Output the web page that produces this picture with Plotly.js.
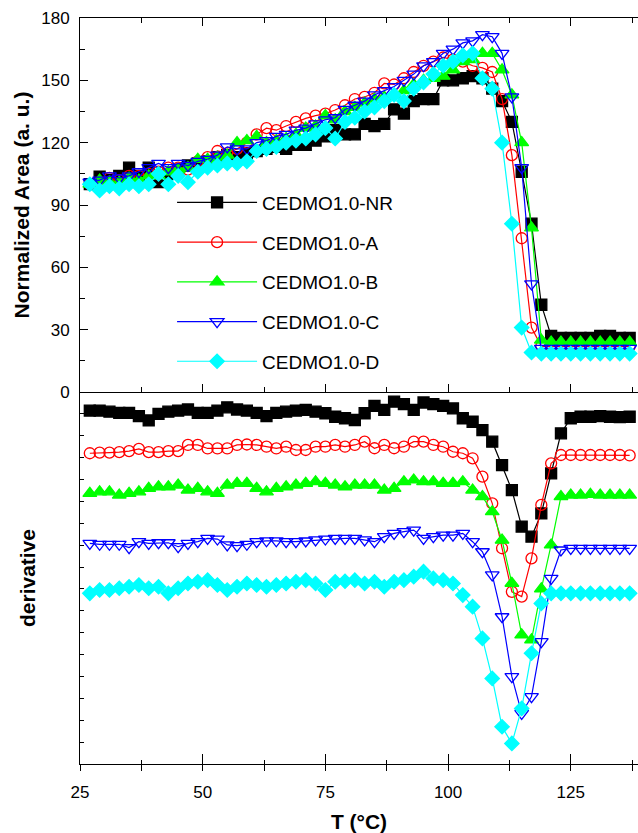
<!DOCTYPE html>
<html><head><meta charset="utf-8">
<script src="https://cdn.plot.ly/plotly-3.0.1.min.js"></script>
<style>html,body{margin:0;padding:0;background:#fff;} #chart{width:638px;height:833px;}</style>
</head><body><div id="chart"></div>
<script>
// Temperature (°C)
const T = [27,29,31,33,35,37,39,41,43,45,47,49,51,53,55,57,59,61,63,65,67,69,71,73,75,77,79,81,83,85,87,89,91,93,95,97,99,101,103,105,107,109,111,113,115,117,119,121,123,125,127,129,131,133,135,137];

// Normalized area (a. u.)
const area_NR = [100,103.6,102,104,108,104,108,101,105,107, 109,110,111,113,114,113,115,116,117,118, 117,119,119,121,123,126,124,124,129,128, 129,136,134,140,141,141,150,150,151,152, 151,146,140,130,106,81,42,27,26,26, 26,26,27,27,26,26];
const area_A  = [100,101,103,102,104,104,105,106,108,108, 107,111,113,116,115,117,120,124,127,126, 128,130,131.7,133,134,135.7,138,141,142,144, 148.5,148,151,154,157,159,161,160,159,157, 156,154,141,114,74,31,22,22,22,22, 22,22,22,22,22,22];
const area_B  = [100,102,101,101,103,102,104,104,106,107, 108,112,112,113,114,120,121,123,120,121, 122,124,127,128,133,131,135,137,139,141, 142,143,145,148,150,151,152,155,159,160, 163,163,155,143,120,79,25,24,24,24, 24,24,24,24,24,24];
const area_C  = [101,102,104,103,104,106,108,110,108,110, 109,111,112,114,118,117,117,120,121,123, 124,126,127,129,131,132,136,138,140,143, 145,147,150,153,157,159,163,165,168,169, 172,171,163,142,108,52,21,21,21,21, 21,21,21,21,21,21];
const area_D  = [100,97,99,98,100,99,100,105,100,104, 101,106,108,109,110,110,111,116,117,118, 120,121,122,124,127,122,130,132,135,137, 140,143,140,146,149,153,157,159,162,163, 151,146,120,81,31,19,18.5,18.5,18.5,18.5, 18.5,18.5,18.5,18.5,18.5,18.5];

// Derivative (arbitrary units, stacked with offsets as in the figure)
const deriv_NR = [-0.85,-0.85,-0.9,-0.95,-0.95,-1.1,-1.3,-1.0,-0.9,-0.85, -0.8,-0.95,-0.95,-0.85,-0.7,-0.8,-0.85,-0.95,-1.1,-0.95, -0.9,-0.85,-0.82,-0.9,-0.97,-1.13,-1.2,-1.28,-0.97,-0.63, -0.82,-0.44,-0.55,-0.82,-0.48,-0.55,-0.63,-0.75,-1.2,-1.36, -1.74,-2.27,-3.34,-4.48,-6.15,-6.61,-5.55,-3.72,-1.89,-1.2, -1.13,-1.13,-1.1,-1.13,-1.15,-1.13];
const deriv_A  = [-2.8,-2.77,-2.77,-2.75,-2.7,-2.6,-2.75,-2.75,-2.7,-2.7, -2.42,-2.42,-2.58,-2.58,-2.58,-2.42,-2.4,-2.42,-2.5,-2.58, -2.5,-2.65,-2.65,-2.5,-2.5,-2.42,-2.5,-2.42,-2.27,-2.57, -2.42,-2.57,-2.5,-2.27,-2.27,-2.42,-2.5,-2.73,-2.8,-3.03, -3.87,-5.09,-7.14,-9.13,-9.35,-7.6,-5.16,-3.26,-2.88,-2.88, -2.88,-2.88,-2.88,-2.88,-2.88,-2.9];
const deriv_B  = [-4.63,-4.56,-4.56,-4.71,-4.63,-4.56,-4.40,-4.33,-4.33,-4.25, -4.48,-4.40,-4.56,-4.63,-4.25,-4.17,-4.17,-4.40,-4.56,-4.40, -4.33,-4.25,-4.17,-4.10,-4.17,-4.25,-4.33,-4.25,-4.25,-4.25, -4.48,-4.40,-4.10,-4.02,-4.10,-4.10,-4.17,-4.17,-4.10,-4.48, -4.78,-5.47,-6.77,-8.74,-11.1,-11.33,-9.0,-6.99,-4.78,-4.71, -4.71,-4.68,-4.71,-4.71,-4.71,-4.71];
const deriv_C  = [-6.92,-6.96,-6.96,-6.96,-7.11,-6.84,-6.92,-6.89,-6.89,-7.07, -6.92,-6.84,-6.69,-6.72,-6.99,-7.02,-6.96,-6.84,-6.8,-6.8, -6.84,-6.84,-6.81,-6.76,-6.72,-6.69,-6.69,-6.69,-6.76,-6.84, -6.61,-6.46,-6.38,-6.31,-6.69,-6.61,-6.54,-6.54,-6.46,-6.84, -7.3,-8.36,-10.27,-13.01,-14.69,-13.92,-11.41,-8.52,-7.22,-7.15, -7.15,-7.15,-7.15,-7.15,-7.15,-7.15];
const deriv_D  = [-9.2,-9.05,-9.05,-8.97,-8.9,-8.82,-8.97,-8.9,-9.2,-8.97, -8.75,-8.67,-8.6,-8.82,-9.05,-8.9,-8.75,-8.82,-8.9,-8.82, -8.75,-8.67,-8.6,-8.75,-9.05,-8.67,-8.65,-8.6,-8.75,-8.67, -8.9,-8.67,-8.6,-8.44,-8.21,-8.52,-8.6,-8.75,-9.28,-9.81, -11.26,-13.09,-15.3,-16.06,-14.46,-11.94,-9.66,-9.2,-9.2,-9.2, -9.2,-9.2,-9.2,-9.2,-9.2,-9.2];

const names   = ['CEDMO1.0-NR','CEDMO1.0-A','CEDMO1.0-B','CEDMO1.0-C','CEDMO1.0-D'];
const areas   = [area_NR, area_A, area_B, area_C, area_D];
const derivs  = [deriv_NR, deriv_A, deriv_B, deriv_C, deriv_D];
const colors  = ['#000000','#FF0000','#00FF00','#0000FF','#00FFFF'];
const symbols = ['square','circle-open','triangle-up','triangle-down-open','diamond'];
const sizes   = [11,11,12,12,11];

const FONT = 'Liberation Sans, Arial, Helvetica, sans-serif';
const traces = [];
for (let i = 0; i < names.length; i++) {
  const mk = {symbol: symbols[i], size: sizes[i], color: colors[i], line: {color: colors[i], width: 1.3}};
  traces.push({x: T, y: areas[i], name: names[i], legendgroup: names[i], type: 'scatter', mode: 'lines+markers',
    line: {color: colors[i], width: 1.2}, marker: mk, xaxis: 'x', yaxis: 'y', cliponaxis: true});
}
for (let i = 0; i < names.length; i++) {
  const mk = {symbol: symbols[i], size: sizes[i], color: colors[i], line: {color: colors[i], width: 1.3}};
  traces.push({x: T, y: derivs[i], name: names[i], legendgroup: names[i], showlegend: false, type: 'scatter', mode: 'lines+markers',
    line: {color: colors[i], width: 1.2}, marker: mk, xaxis: 'x2', yaxis: 'y2'});
}
traces.push({x: [], y: [], xaxis: 'x3', yaxis: 'y2', showlegend: false, hoverinfo: 'skip'});

const split = 372/746;
const xr = [25, 138.7];
const layout = {
  width: 638, height: 833,
  margin: {l: 80, r: 0, t: 18, b: 69},
  paper_bgcolor: '#ffffff', plot_bgcolor: '#ffffff',
  font: {family: FONT, color: '#000'},
  showlegend: true,
  legend: {x: 0.165, y: 0.778, xanchor: 'left', yanchor: 'top', bgcolor: 'rgba(0,0,0,0)',
    font: {family: FONT, size: 19, color: '#000'}, tracegroupgap: 12, itemwidth: 80, traceorder: 'grouped'},
  xaxis: {domain: [0, 1], anchor: 'y', range: xr, showline: true, linecolor: '#000', linewidth: 1,
    mirror: 'ticks', ticks: 'inside', ticklen: 8, tickwidth: 1, tickcolor: '#000', tick0: 25, dtick: 25,
    minor: {ticks: 'inside', ticklen: 5, tick0: 25, dtick: 12.5, tickcolor: '#000', showgrid: false},
    showticklabels: false, showgrid: false, zeroline: false},
  yaxis: {domain: [split, 1], anchor: 'x', range: [0, 180], tick0: 0, dtick: 30,
    ticks: 'inside', ticklen: 8, tickwidth: 1, tickcolor: '#000',
    minor: {ticks: 'inside', ticklen: 5, tick0: 0, dtick: 15, tickcolor: '#000', showgrid: false},
    showline: true, linecolor: '#000', linewidth: 1, showgrid: false, zeroline: false,
    tickfont: {family: FONT, size: 17, color: '#000'}, ticklabelstandoff: 6,
    title: {text: '<b>Normalized Area (a. u.)</b>', standoff: 5, font: {family: FONT, size: 21, color: '#000', weight: 'bold'}}},
  xaxis2: {domain: [0, 1], anchor: 'y2', range: xr, showline: true, linecolor: '#000', linewidth: 1,
    mirror: false, ticks: 'outside', ticklen: 6, tickwidth: 1, tickcolor: '#000', tick0: 25, dtick: 25,
    minor: {ticks: 'outside', ticklen: 6, tick0: 25, dtick: 12.5, tickcolor: '#000', showgrid: false},
    showgrid: false, zeroline: false, tickfont: {family: FONT, size: 17, color: '#000'}, ticklabelstandoff: 7,
    title: {text: '<b>T (°C)</b>', standoff: 12, font: {family: FONT, size: 21, color: '#000', weight: 'bold'}}},
  xaxis3: {overlaying: 'x2', anchor: 'y2', side: 'bottom', range: xr, showline: false,
    ticks: 'inside', ticklen: 10, tickwidth: 1, tickcolor: '#000', tick0: 25, dtick: 25,
    minor: {ticks: 'inside', ticklen: 4, tick0: 25, dtick: 12.5, tickcolor: '#000', showgrid: false},
    showticklabels: false, showgrid: false, zeroline: false},
  yaxis2: {domain: [0, split], anchor: 'x2', range: [-17, 0], tick0: 0, dtick: 1,
    ticks: 'inside', ticklen: 4, tickwidth: 1, tickcolor: '#000', showticklabels: false,
    showline: true, linecolor: '#000', linewidth: 1, showgrid: false, zeroline: false,
    title: {text: '<b>derivative</b>', standoff: 37, font: {family: FONT, size: 21, color: '#000', weight: 'bold'}}}
};
Plotly.newPlot('chart', traces, layout, {displayModeBar: false, staticPlot: true});
</script>
</body></html>
